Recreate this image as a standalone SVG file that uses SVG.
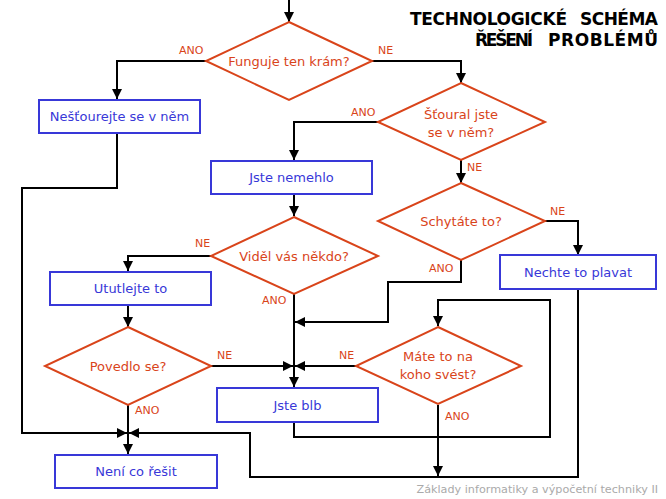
<svg xmlns="http://www.w3.org/2000/svg" width="666" height="499" viewBox="0 0 666 499">
<style>
.d{fill:#fff;stroke:#D9441A;stroke-width:2}
.b{fill:#fff;stroke:#3838D8;stroke-width:2}
.dt{font-family:"DejaVu Sans",Verdana,sans-serif;font-size:13px;fill:#D9441A;text-anchor:middle}
.bt{font-family:"DejaVu Sans",Verdana,sans-serif;font-size:13px;fill:#3838D8;text-anchor:middle}
.l{font-family:"DejaVu Sans",Verdana,sans-serif;font-size:11px;fill:#D9441A}
.c{fill:none;stroke:#000;stroke-width:2}
.a{marker-end:url(#ah)}
.t{font-family:"DejaVu Sans",Verdana,sans-serif;font-size:17px;font-weight:bold;fill:#000}
.f{font-family:"DejaVu Sans",Verdana,sans-serif;font-size:11.2px;fill:#AAAAAA;text-anchor:end}
</style>
<defs>
<marker id="ah" markerUnits="userSpaceOnUse" markerWidth="10" markerHeight="10" viewBox="0 0 10 10" refX="10" refY="5" orient="auto">
<path d="M0,0 L10,5 L0,10 z" fill="#000"/>
</marker>
</defs>
<rect width="666" height="499" fill="#fff"/>
<g id="connectors">
<path class="c a" d="M289,0 V22"/>
<path class="c a" d="M206,61 H117 V99"/>
<path class="c a" d="M371,61 H461 V83"/>
<path class="c a" d="M117,133 V188 H22 V433 H127"/>
<path class="c a" d="M378,122 H294 V160"/>
<path class="c a" d="M294,194 V216"/>
<path class="c a" d="M461,160 V183"/>
<path class="c a" d="M211,256 H128 V271"/>
<path class="c a" d="M128,305 V327"/>
<path class="c a" d="M545,221 H578 V255"/>
<path class="c a" d="M211,366 H293"/>
<path class="c a" d="M356,366 H295"/>
<path class="c a" d="M294,294 V387"/>
<path class="c a" d="M461,260 V282 H388 V322 H295"/>
<path class="c a" d="M128,405 V454"/>
<path class="c a" d="M578,289 V477 H250 V433 H129"/>
<path class="c a" d="M294,422 V437 H550 V300 H438 V326"/>
<path class="c a" d="M438,405 V476"/>
</g>
<g id="n1"><polygon class="d" points="289,22 372,61 289,100 206,61"/><text class="dt" x="289" y="66">Funguje ten krám?</text></g>
<g id="n2"><rect class="b" x="39" y="100" width="161" height="33"/><text class="bt" x="119.5" y="121">Nešťourejte se v něm</text></g>
<g id="n3"><polygon class="d" points="461,83 545,122 461,160 378,122"/><text class="dt" x="461" y="119">Šťoural jste</text><text class="dt" x="461" y="137">se v něm?</text></g>
<g id="n4"><rect class="b" x="211" y="161" width="161" height="33"/><text class="bt" x="291.5" y="182">Jste nemehlo</text></g>
<g id="n5"><polygon class="d" points="461,183 545,221 461,260 378,221"/><text class="dt" x="461" y="226">Schytáte to?</text></g>
<g id="n6"><polygon class="d" points="294,217 378,256 294,294 211,256"/><text class="dt" x="294" y="261">Viděl vás někdo?</text></g>
<g id="n7"><rect class="b" x="500" y="255" width="156" height="34"/><text class="bt" x="578" y="277">Nechte to plavat</text></g>
<g id="n8"><rect class="b" x="50" y="272" width="161" height="33"/><text class="bt" x="130.5" y="293">Ututlejte to</text></g>
<g id="n9"><polygon class="d" points="128,327 211,366 128,405 45,366"/><text class="dt" x="128" y="371">Povedlo se?</text></g>
<g id="n10"><polygon class="d" points="438,327 521,366 438,404 356,366"/><text class="dt" x="438" y="361">Máte to na</text><text class="dt" x="438" y="379">koho svést?</text></g>
<g id="n11"><rect class="b" x="217" y="388" width="161" height="34"/><text class="bt" x="297.5" y="410">Jste blb</text></g>
<g id="n12"><rect class="b" x="55" y="455" width="162" height="33"/><text class="bt" x="136" y="476">Není co řešit</text></g>
<g id="labels">
<text class="l" x="179" y="54">ANO</text>
<text class="l" x="378" y="54">NE</text>
<text class="l" x="351" y="116">ANO</text>
<text class="l" x="467" y="171">NE</text>
<text class="l" x="195" y="247">NE</text>
<text class="l" x="550" y="215">NE</text>
<text class="l" x="262" y="304">ANO</text>
<text class="l" x="429" y="272">ANO</text>
<text class="l" x="217" y="359">NE</text>
<text class="l" x="339" y="359">NE</text>
<text class="l" x="135" y="414">ANO</text>
<text class="l" x="445" y="420">ANO</text>
</g>
<g id="title">
<text class="t" y="25"><tspan x="410" textLength="157">TECHNOLOGICKÉ</tspan> <tspan x="580" textLength="78">SCHÉMA</tspan></text>
<text class="t" y="46"><tspan x="475" textLength="58">ŘEŠENÍ</tspan> <tspan x="548" textLength="110">PROBLÉMŮ</tspan></text>
</g>
<text class="f" x="658" y="493">Základy informatiky a výpočetní techniky II</text>
</svg>
